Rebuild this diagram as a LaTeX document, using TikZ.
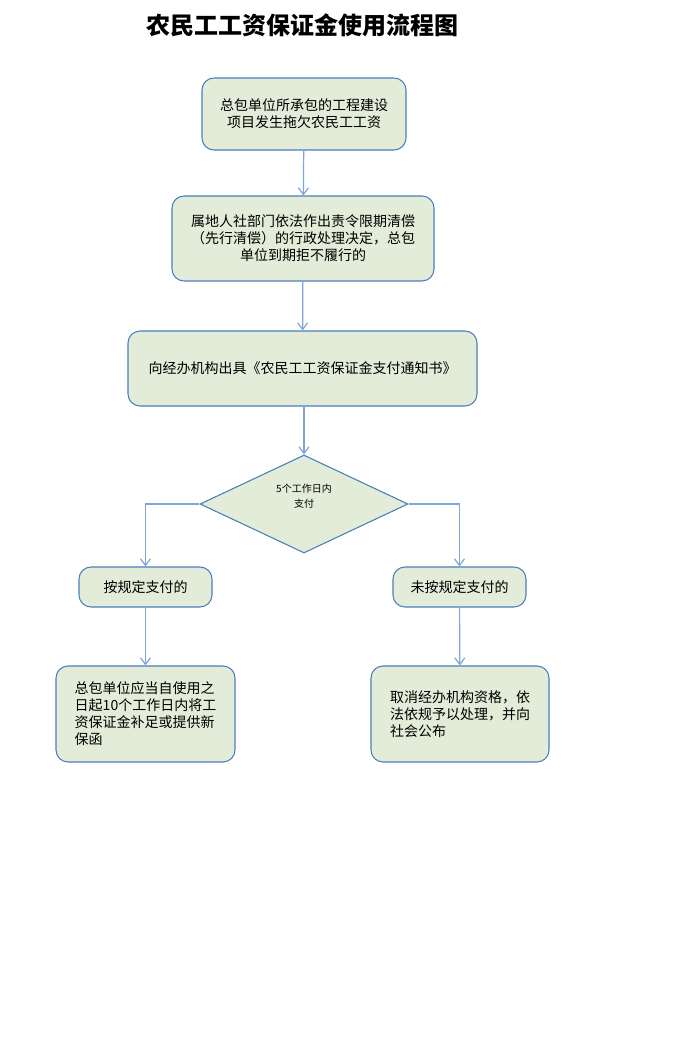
\documentclass[tikz,border=0pt]{standalone}
\usepackage{fontspec}
\setmainfont{Noto Sans CJK SC}
\usetikzlibrary{shapes.geometric, arrows.meta}
\definecolor{boxfill}{HTML}{E2ECD8}
\definecolor{boxline}{HTML}{4A7EBB}
\definecolor{arrline}{HTML}{7EA6D8}

\begin{document}
\begin{tikzpicture}[x=0.75pt, y=-0.75pt, ->, >={Straight Barb[length=5pt,width=7.5pt]},
    box/.style={draw=boxline, fill=boxfill, line width=0.8pt, rounded corners=9pt, inner sep=0pt, font=\fontsize{10.5}{12.75}\selectfont},
    choice/.style={diamond, draw=boxline, fill=boxfill, line width=0.8pt, inner sep=0pt},
    flow/.style={draw=arrline, line width=0.9pt}]
    \useasboundingbox (0,0) rectangle (691,1059);
    \node (title) at (302,25) {\fontsize{18}{18}\selectfont\bfseries 农民工工资保证金使用流程图};
    \node[box, minimum width=153pt, minimum height=54pt, align=center] (arrears) at (304,114) {总包单位所承包的工程建设\\项目发生拖欠农民工工资};
    \node[box, minimum width=196.5pt, minimum height=63.75pt, align=center] (order) at (303,238.5) {属地人社部门依法作出责令限期清偿\\（先行清偿）的行政处理决定，总包\\单位到期拒不履行的};
    \node[box, minimum width=261.75pt, minimum height=56.25pt] (notice) at (302.5,368.5) {向经办机构出具《农民工工资保证金支付通知书》};
    \node[choice, minimum width=156pt, minimum height=73.5pt] (check) at (304,504) {};
    \node[align=center, font=\fontsize{7.5}{11}\selectfont] (limit) at (304,496) {5个工作日内\\支付};
    \node[box, minimum width=99.75pt, minimum height=30pt] (paid) at (145.5,587) {按规定支付的};
    \node[box, minimum width=99.75pt, minimum height=30pt] (unpaid) at (459.5,587) {未按规定支付的};
    \node[box, minimum width=134.25pt, minimum height=72pt, align=left] (refill) at (145.5,714) {总包单位应当自使用之\\日起10个工作日内将工\\资保证金补足或提供新\\保函};
    \node[box, minimum width=133.5pt, minimum height=72pt, align=left] (revoke) at (460,714) {取消经办机构资格，依\\法依规予以处理，并向\\社会公布};
    \draw[flow] (arrears) edge (order)
                (order) edge (notice)
                (paid) edge (refill)
                (unpaid) edge (revoke);
    \draw[flow] (notice.south -| check.north) -- (check.north);
    \draw[flow] (check.west) -| (paid.north);
    \draw[flow] (check.east) -| (unpaid.north);
\end{tikzpicture}
\end{document}
